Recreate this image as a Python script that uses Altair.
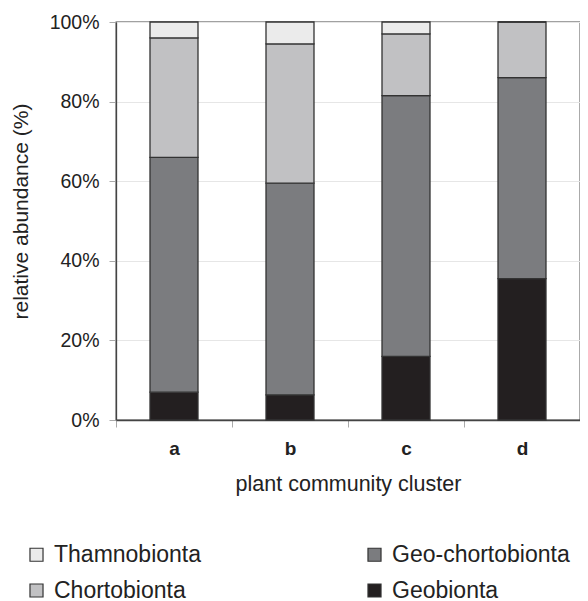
import altair as alt
import pandas as pd

clusters = ["a", "b", "c", "d"]
groups = ["Geobionta", "Geo-chortobionta", "Chortobionta", "Thamnobionta"]
geobionta = [7.0, 6.3, 16.0, 35.5]
geo_chortobionta = [59.0, 53.2, 65.5, 50.5]
chortobionta = [30.0, 35.0, 15.5, 14.0]
thamnobionta = [4.0, 5.5, 3.0, 0.0]

legend_order = ["Thamnobionta", "Chortobionta", "Geo-chortobionta", "Geobionta"]
colors = ["#ebebeb", "#c1c1c3", "#7b7c7f", "#231f20"]

series = [geobionta, geo_chortobionta, chortobionta, thamnobionta]
rows = []
for gi, (g, vals) in enumerate(zip(groups, series)):
    for c, v in zip(clusters, vals):
        rows.append({"cluster": c, "group": g, "value": v / 100.0, "stack_order": gi})
df = pd.DataFrame(rows)

FONT = "Liberation Sans"

chart = (
    alt.Chart(df)
    .mark_bar(stroke="#333333", strokeWidth=1.3, size=48)
    .encode(
        x=alt.X(
            "cluster:N",
            title="plant community cluster",
            scale=alt.Scale(paddingInner=0, paddingOuter=0),
            axis=alt.Axis(
                labelAngle=0,
                labelFont=FONT,
                labelFontSize=19,
                labelFontWeight="bold",
                labelColor="#222222",
                labelPadding=12,
                tickBand="extent",
                tickSize=7,
                tickColor="#aaaaaa",
                domainColor="#444444",
                domainWidth=1.3,
                titleFont=FONT,
                titleFontSize=21.5,
                titleFontWeight="normal",
                titleColor="#222222",
                titlePadding=15,
            ),
        ),
        y=alt.Y(
            "value:Q",
            stack="zero",
            title="relative abundance (%)",
            scale=alt.Scale(domain=[0, 1]),
            axis=alt.Axis(
                format=".0%",
                values=[0, 0.2, 0.4, 0.6, 0.8, 1.0],
                labelFont=FONT,
                labelFontSize=19.5,
                labelColor="#222222",
                labelPadding=10,
                tickSize=7,
                tickColor="#aaaaaa",
                domainColor="#444444",
                domainWidth=1.3,
                gridColor="#e6e6e6",
                titleFont=FONT,
                titleFontSize=21,
                titleFontWeight="normal",
                titleColor="#222222",
                titlePadding=18,
                titleY=189,
            ),
        ),
        color=alt.Color(
            "group:N",
            scale=alt.Scale(domain=legend_order, range=colors),
            legend=alt.Legend(
                title=None,
                orient="none",
                legendX=-91,
                legendY=521,
                columns=2,
                columnPadding=161,
                rowPadding=12,
                symbolType="square",
                symbolSize=170,
                symbolStrokeColor="#333333",
                symbolStrokeWidth=1.2,
                labelFont=FONT,
                labelFontSize=23,
                labelColor="#222222",
                labelOffset=6,
                labelLimit=300,
            ),
        ),
        order=alt.Order("stack_order:Q", sort="ascending"),
    )
    .properties(
        width=464,
        height=398,
        autosize=alt.AutoSizeParams(type="none"),
        padding={"left": 108, "top": 14, "right": 0, "bottom": 190},
    )
    .configure_view(stroke="#444444", strokeWidth=1.3)
)

chart.save("out.html", embed_options={"renderer": "svg", "actions": False})
